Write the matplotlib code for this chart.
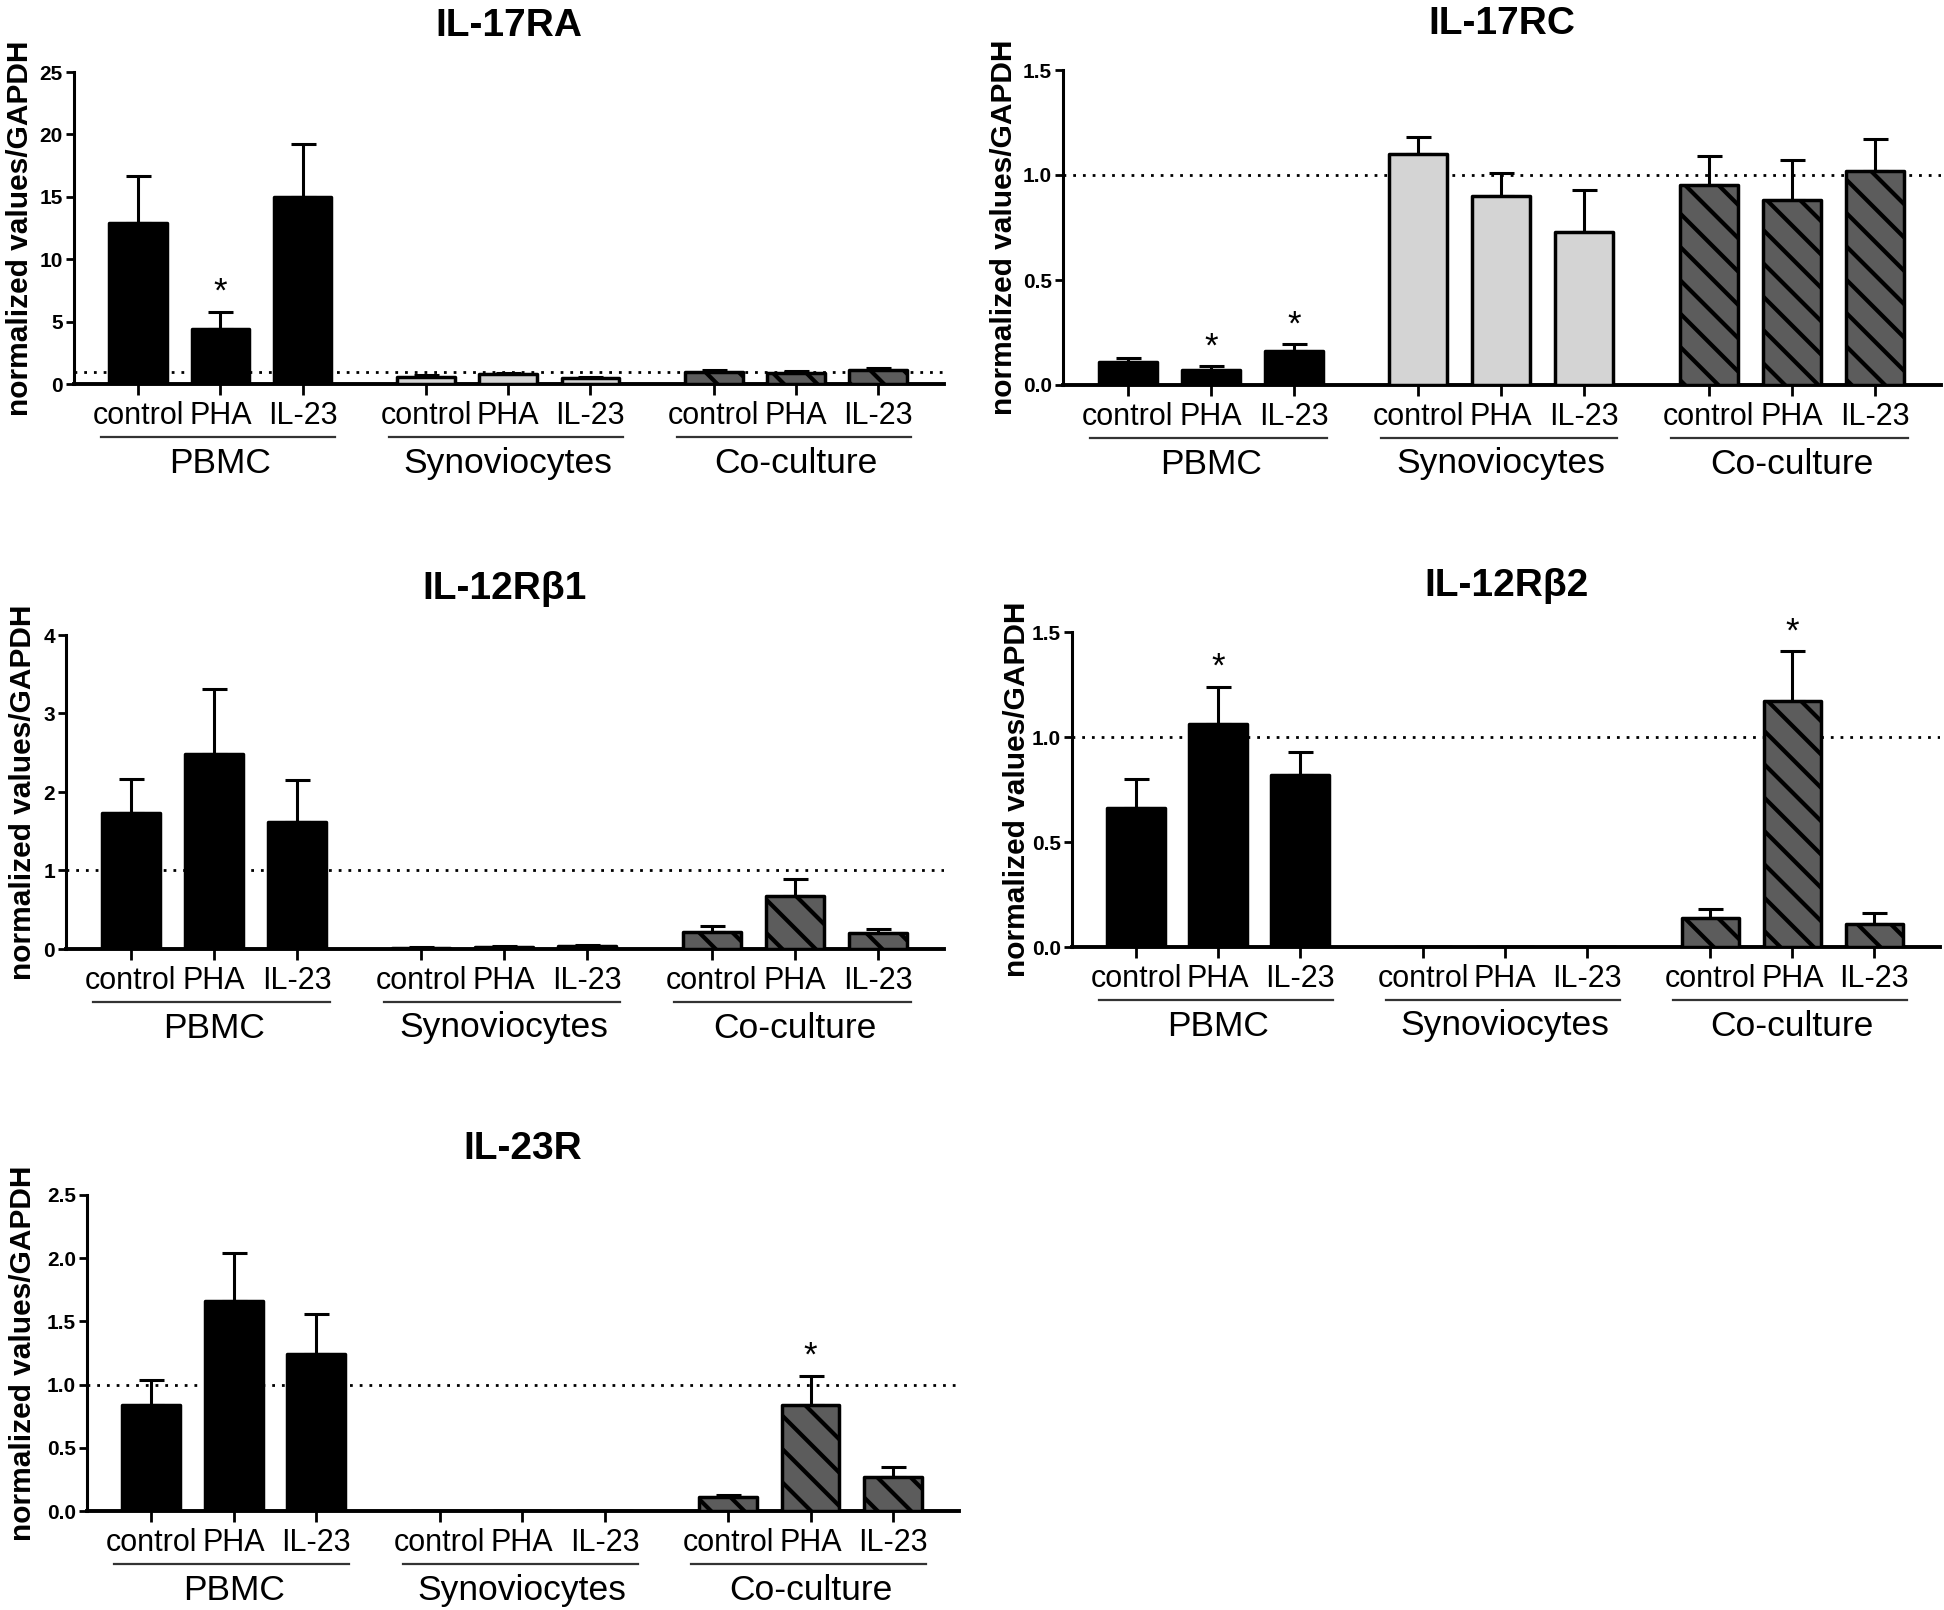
import matplotlib
matplotlib.use("Agg")
import matplotlib.pyplot as plt
from matplotlib import transforms

conditions = ["control", "PHA", "IL-23"]
groups = ["PBMC", "Synoviocytes", "Co-culture"]

# mean and SEM per bar, order: PBMC (control, PHA, IL-23), Synoviocytes, Co-culture
il17ra_mean = [12.9, 4.4, 15.0, 0.55, 0.8, 0.5, 1.0, 0.9, 1.15]
il17ra_sem = [3.8, 1.4, 4.2, 0.15, 0.1, 0.1, 0.15, 0.15, 0.15]
il17ra_star = [1]

il17rc_mean = [0.11, 0.07, 0.16, 1.10, 0.90, 0.73, 0.95, 0.88, 1.02]
il17rc_sem = [0.02, 0.02, 0.035, 0.08, 0.11, 0.20, 0.14, 0.19, 0.15]
il17rc_star = [1, 2]

il12rb1_mean = [1.73, 2.48, 1.62, 0.01, 0.03, 0.04, 0.22, 0.67, 0.20]
il12rb1_sem = [0.44, 0.83, 0.53, 0.01, 0.01, 0.01, 0.07, 0.22, 0.06]
il12rb1_star = []

il12rb2_mean = [0.66, 1.06, 0.82, 0.0, 0.0, 0.0, 0.14, 1.17, 0.11]
il12rb2_sem = [0.14, 0.18, 0.11, 0.0, 0.0, 0.0, 0.04, 0.24, 0.05]
il12rb2_star = [1, 7]

il23r_mean = [0.84, 1.66, 1.24, 0.0, 0.0, 0.0, 0.11, 0.84, 0.27]
il23r_sem = [0.20, 0.38, 0.32, 0.0, 0.0, 0.0, 0.02, 0.23, 0.08]
il23r_star = [7]

titles = ["IL-17RA", "IL-17RC", "IL-12R\u03b21", "IL-12R\u03b22", "IL-23R"]
yticks = [
    [0, 5, 10, 15, 20, 25],
    [0.0, 0.5, 1.0, 1.5],
    [0, 1, 2, 3, 4],
    [0.0, 0.5, 1.0, 1.5],
    [0.0, 0.5, 1.0, 1.5, 2.0, 2.5],
]
ytick_fmt = ["{:.0f}", "{:.1f}", "{:.0f}", "{:.1f}", "{:.1f}"]

W, H = 1944, 1610
# axes boxes in pixels: left, right, top, bottom (= y zero line)
boxes = [
    (74, 944, 72, 384),
    (1063, 1941, 70, 385),
    (66, 944, 635, 949),
    (1072, 1940, 632, 947),
    (87, 959, 1195, 1511),
]
# distance (px) from the y spine to the y-label anchor
ylabel_dx = [40, 45, 29, 41, 50]

plt.rcParams["font.family"] = ["Liberation Sans", "DejaVu Sans"]
plt.rcParams["hatch.linewidth"] = 3.0

group_style = [
    dict(color="black", hatch=None),
    dict(color="#d4d4d4", hatch=None),
    dict(color="#5c5c5c", hatch="\\"),
]


def draw_panel(fig, ax, title, mean, sem, stars, ticks, fmt, label_dx):
    xs = [g * 3.5 + c for g in range(3) for c in range(3)]
    for g in range(3):
        sl = slice(g * 3, g * 3 + 3)
        ax.bar(xs[sl], mean[sl], width=0.7, edgecolor="black", linewidth=2.5,
               joinstyle="round", zorder=3, **group_style[g])
    ex = [x for x, m in zip(xs, mean) if m > 0]
    ey = [m for m in mean if m > 0]
    ee = [s for m, s in zip(mean, sem) if m > 0]
    ax.errorbar(ex, ey, yerr=[[0] * len(ee), ee], fmt="none", ecolor="black",
                elinewidth=2.2, capsize=9, capthick=2.2, zorder=2)
    ax.axhline(1, color="black", linestyle=(0, (1, 2.5)), linewidth=2, zorder=1)
    for i in stars:
        ax.annotate("*", xy=(xs[i], mean[i] + sem[i]), xytext=(0, 2),
                    textcoords="offset points", ha="center", va="bottom",
                    fontsize=25)

    ax.set_xlim(-0.78, 9.8)
    ax.set_ylim(0, ticks[-1])
    ax.set_yticks(ticks)
    ax.set_yticklabels([fmt.format(t) for t in ticks], fontsize=15,
                       fontweight="bold")
    ax.set_xticks(xs)
    ax.set_xticklabels(conditions * 3, fontsize=22)
    ax.tick_params(axis="y", length=6, width=2, pad=2)
    ax.tick_params(axis="x", length=8, width=2, pad=4)
    for s in ["top", "right"]:
        ax.spines[s].set_visible(False)
    ax.spines["left"].set_linewidth(2.2)
    ax.spines["bottom"].set_linewidth(2.8)

    ax.set_title(title, fontsize=28, fontweight="bold", pad=26)
    ax.set_ylabel("normalized values/GAPDH", fontsize=21.5, fontweight="bold")
    width_px = ax.get_position().width * W
    ax.yaxis.set_label_coords(-label_dx / width_px, 0.5)

    base = transforms.blended_transform_factory(ax.transData, ax.transAxes)
    line_tr = transforms.offset_copy(base, fig=fig, y=-53, units="dots")
    text_tr = transforms.offset_copy(base, fig=fig, y=-79, units="dots")
    for g, name in enumerate(groups):
        x0 = xs[g * 3] - 0.45
        x1 = xs[g * 3 + 2] + 0.4
        ax.plot([x0, x1], [0, 0], color="#333333", linewidth=1.6,
                transform=line_tr, clip_on=False)
        ax.text((xs[g * 3] + xs[g * 3 + 2]) / 2, 0, name, transform=text_tr,
                ha="center", va="center", fontsize=25.5)


fig = plt.figure(figsize=(W / 100, H / 100), dpi=100)

data = [
    (il17ra_mean, il17ra_sem, il17ra_star),
    (il17rc_mean, il17rc_sem, il17rc_star),
    (il12rb1_mean, il12rb1_sem, il12rb1_star),
    (il12rb2_mean, il12rb2_sem, il12rb2_star),
    (il23r_mean, il23r_sem, il23r_star),
]

for k, (mean, sem, stars) in enumerate(data):
    left, right, top, bottom = boxes[k]
    ax = fig.add_axes([left / W, 1 - bottom / H, (right - left) / W,
                       (bottom - top) / H])
    draw_panel(fig, ax, titles[k], mean, sem, stars, yticks[k], ytick_fmt[k],
               ylabel_dx[k])

fig.savefig("out.png", dpi=100)
